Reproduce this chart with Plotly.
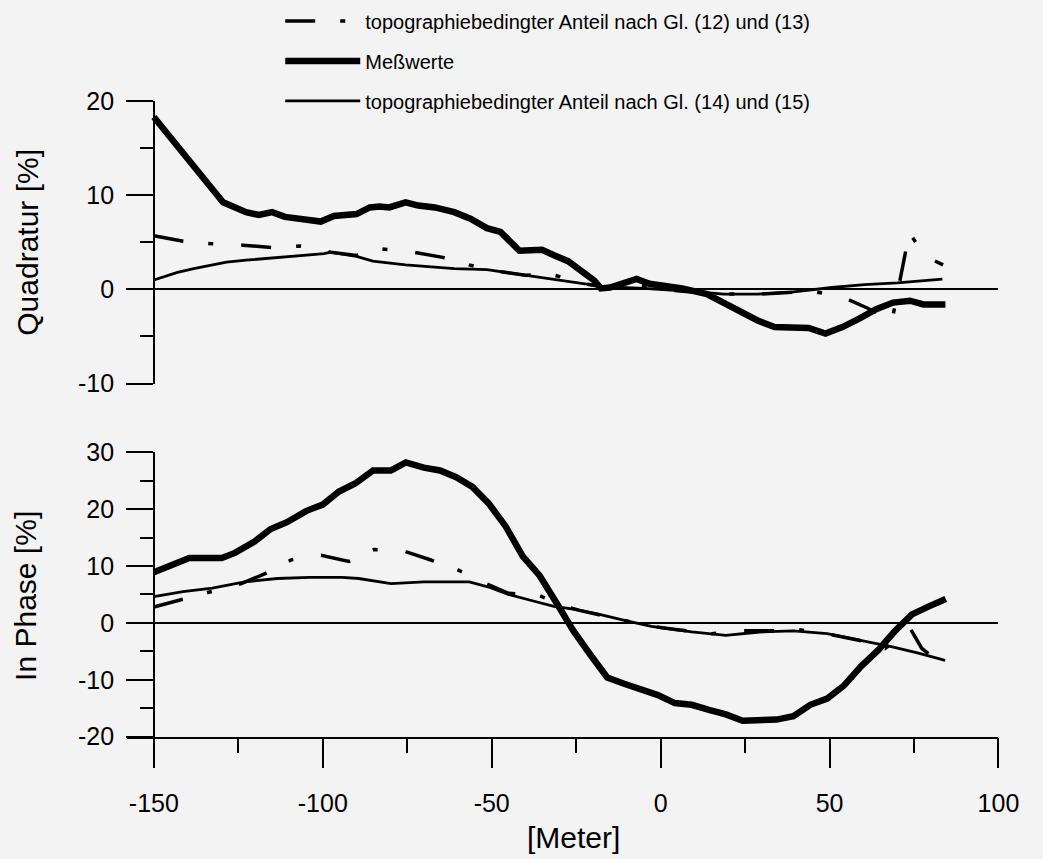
import plotly.graph_objects as go

# ---------------- data ----------------
# Quadratur, Meßwerte
q_mess_x = [-150, -142, -136.2, -129.5, -122.7, -118.9, -115, -111.2, -106.4, -100.6, -96.7, -93.8, -90,
            -86.1, -83.2, -80.3, -75.5, -71.7, -66.8, -61.1, -56.3, -51.4, -47.4, -41.8, -35.1, -31.4,
            -27.4, -19.7, -17.7, -15, -7.1, -3.3, 6.4, 13.7, 18.7, 23.7, 28.7, 33.7, 38.7, 43.8, 48.8,
            53.8, 58.8, 63.8, 68.8, 73.8, 77.8, 84.3]
q_mess_y = [18.3, 14.9, 12.2, 9.25, 8.2, 7.9, 8.2, 7.7, 7.4, 7.2, 7.8, 7.9, 8.0,
            8.7, 8.8, 8.7, 9.25, 8.9, 8.7, 8.2, 7.5, 6.5, 6.1, 4.1, 4.2, 3.6,
            3.0, 0.96, 0.1, 0.2, 1.1, 0.6, 0.1, -0.5, -1.4, -2.4, -3.3, -4.0, -4.1, -4.1, -4.7,
            -4.0, -3.1, -2.1, -1.4, -1.2, -1.6, -1.6]

# Quadratur, topographiebedingter Anteil nach Gl. (12) und (13)
q_g1213_x = [-150, -141, -132.9, -123.7, -115, -106.8, -97.7, -90, -82.4, -73.1, -64.5, -56.7, -48,
             -40, -32.2, -24, -16, -7, 0, 10, 20, 30, 44.4, 53.1, 61.3, 68.5, 73.6, 78.4, 83.6]
q_g1213_y = [5.7, 5.1, 4.85, 4.7, 4.45, 4.6, 3.95, 3.6, 4.3, 3.95, 3.4, 2.6, 1.9,
             1.5, 1.6, 0.7, 0.2, 0.5, 0.0, -0.3, -0.5, -0.5, -0.2, -0.7, -2.0, -3.3, 6.0, 3.5, 2.6]

# Quadratur, topographiebedingter Anteil nach Gl. (14) und (15)
q_g1415_x = [-150, -143, -138.2, -128.5, -122.7, -113, -105, -99.6, -97.7, -90, -85.2, -75.5, -61.1,
             -51.4, -41.8, -32.2, -22.5, -16.8, -5, 8.7, 18.7, 28.7, 38.7, 50.7, 60.3, 70, 83.4]
q_g1415_y = [1.0, 1.8, 2.2, 2.9, 3.1, 3.4, 3.6, 3.8, 3.95, 3.5, 3.0, 2.6, 2.2,
             2.1, 1.6, 1.1, 0.6, 0.3, 0.1, -0.2, -0.5, -0.5, -0.3, 0.2, 0.5, 0.7, 1.1]

# In Phase, Meßwerte
p_mess_x = [-150, -145.3, -139.5, -129.9, -126, -120.2, -115.4, -110.6, -104.8, -100, -95.2, -90.4,
            -85.1, -79.8, -75.4, -70.1, -65.3, -60.5, -55.7, -50.9, -45.9, -40.8, -35.8, -30.8,
            -25.8, -20.8, -15.8, -10.8, -5.8, -0.8, 4.2, 9.2, 14.3, 19.3, 24.3, 29.3, 34.3, 39.3,
            44.3, 49.3, 54.3, 59.4, 64.4, 69.4, 74.4, 79.4, 84.4]
p_mess_y = [8.9, 10.0, 11.4, 11.4, 12.3, 14.3, 16.5, 17.7, 19.7, 20.8, 23.1, 24.5,
            26.8, 26.8, 28.2, 27.3, 26.8, 25.6, 23.9, 21.0, 17.0, 11.7, 8.3, 3.5,
            -1.4, -5.6, -9.6, -10.7, -11.6, -12.7, -14.1, -14.4, -15.3, -16.1, -17.2, -17.2, -17.0, -16.4,
            -14.4, -13.3, -11.0, -7.6, -4.8, -1.4, 1.5, 2.9, 4.2]

# In Phase, Gl. (12) und (13)
p_g1213_x = [-150, -141.9, -133.2, -124.1, -116.9, -109.2, -100.5, -92.3, -84.8, -75.9, -68.2, -60,
             -52, -45, -35.9, -27.7, -24, -18, -10, -3, 5, 15, 24.3, 32.3, 40.8, 49, 59, 66.4,
             74, 77.3, 84]
p_g1213_y = [2.8, 4.1, 5.5, 6.9, 8.7, 11.1, 11.9, 10.8, 12.9, 12.6, 11.1, 9.3,
             7.0, 5.2, 4.8, 2.8, 2.2, 1.4, 0.3, -0.6, -1.2, -1.9, -1.4, -1.4, -1.2, -1.9, -3.1, -4.5,
             -1.1, -4.5, -7.6]

# In Phase, Gl. (14) und (15)
p_g1415_x = [-150, -141.4, -132.7, -123.1, -113.5, -103.8, -94.2, -89.4, -79.8, -70.1, -60.5, -56.6,
             -50.9, -45.1, -37.4, -31.6, -25.8, -18.1, -10.4, -2.7, 9.2, 19.3, 29.3, 39.3, 49.3,
             59, 68.6, 76.3, 84.2]
p_g1415_y = [4.6, 5.5, 6.1, 7.2, 7.8, 8.0, 8.0, 7.8, 6.9, 7.2, 7.2, 7.2,
             6.3, 5.0, 3.8, 2.9, 2.4, 1.5, 0.4, -0.6, -1.6, -2.2, -1.6, -1.4, -1.9,
             -3.1, -4.2, -5.3, -6.6]

x_ticks = [-150, -100, -50, 0, 50, 100]
x_ticktext = ["-150", "-100", "-50", "0", "50", "100"]
q_ticks = [20, 10, 0, -10]
q_ticktext = ["20", "10", "0", "-10"]
p_ticks = [30, 20, 10, 0, -10, -20]
p_ticktext = ["30", "20", "10", "0", "-10", "-20"]

leg_1213 = "topographiebedingter Anteil nach Gl. (12) und (13)"
leg_mess = "Meßwerte"
leg_1415 = "topographiebedingter Anteil nach Gl. (14) und (15)"

# ---------------- styling ----------------
W, H = 1043, 859
BG = "#f3f3f3"
FONT = "Liberation Sans, Arial, Helvetica, sans-serif"
DASH = "30px,25px,5px,28px"

def px_x(p):
    return p / W

def px_y(p):
    return 1 - p / H

fig = go.Figure()

def add(x, y, xa, ya, name, width, dash, show, group):
    fig.add_trace(go.Scatter(
        x=x, y=y, xaxis=xa, yaxis=ya, mode="lines", name=name,
        line=dict(color="black", width=width, dash=dash),
        showlegend=show, legendgroup=group, hoverinfo="skip"))

add(q_g1213_x, q_g1213_y, "x", "y", leg_1213, 3.5, DASH, True, "a")
add(q_mess_x, q_mess_y, "x", "y", leg_mess, 6.5, "solid", True, "b")
add(q_g1415_x, q_g1415_y, "x", "y", leg_1415, 2.8, "solid", True, "c")
add(p_g1213_x, p_g1213_y, "x2", "y2", leg_1213, 3.5, DASH, False, "a")
add(p_mess_x, p_mess_y, "x2", "y2", leg_mess, 6.5, "solid", False, "b")
add(p_g1415_x, p_g1415_y, "x2", "y2", leg_1415, 2.8, "solid", False, "c")

xdom = [px_x(130), px_x(1019)]
xrange_ = [-150 - 27 / 3.448, 100]
yaxis_pos = px_x(157)

tickfont = dict(family=FONT, size=25, color="black")

common_y = dict(
    showline=True, linecolor="black", linewidth=1.5,
    ticks="outside", ticklen=27, tickwidth=1.5, tickcolor="black",
    minor=dict(ticks="outside", ticklen=13, tickwidth=1.5, tickcolor="black", dtick=5),
    tickfont=tickfont, showgrid=False,
    zeroline=True, zerolinecolor="black", zerolinewidth=1.5,
    anchor="free", position=yaxis_pos, ticklabelstandoff=7,
)

fig.update_layout(
    width=W, height=H,
    margin=dict(l=0, r=0, t=0, b=0),
    paper_bgcolor=BG, plot_bgcolor=BG,
    font=dict(family=FONT, color="black"),
    xaxis=dict(domain=xdom, range=xrange_, visible=False, anchor="y"),
    yaxis=dict(domain=[px_y(382), px_y(90)], range=[-10, 20], tickvals=q_ticks,
               ticktext=q_ticktext, **common_y),
    xaxis2=dict(domain=xdom, range=xrange_, anchor="y2", showline=True, linecolor="black",
                linewidth=1.5, ticks="outside", ticklen=30, tickwidth=1.5, tickcolor="black",
                minor=dict(ticks="outside", ticklen=15, tickwidth=1.5, tickcolor="black", dtick=25),
                tickvals=x_ticks, ticktext=x_ticktext, tickfont=tickfont, showgrid=False,
                zeroline=False, ticklabelstandoff=14),
    yaxis2=dict(domain=[px_y(747), px_y(453)], range=[-20, 30], tickvals=p_ticks,
                ticktext=p_ticktext, **common_y),
    legend=dict(x=px_x(286), y=1.0 + 13 / H, xanchor="left", yanchor="top",
                bgcolor="rgba(0,0,0,0)", font=dict(family=FONT, size=20, color="black"),
                traceorder="grouped", tracegroupgap=11, itemwidth=75),
    showlegend=True,
)

title_font = dict(family=FONT, size=30, color="black")
fig.add_annotation(text="Quadratur [%]", xref="paper", yref="paper", x=px_x(28), y=px_y(236),
                   showarrow=False, textangle=-90, font=title_font, xanchor="center", yanchor="middle")
fig.add_annotation(text="In Phase [%]", xref="paper", yref="paper", x=px_x(26), y=px_y(601),
                   showarrow=False, textangle=-90, font=title_font, xanchor="center", yanchor="middle")
fig.add_annotation(text="[Meter]", xref="paper", yref="paper", x=px_x(585), y=px_y(851),
                   showarrow=False, font=title_font, xanchor="center", yanchor="middle")

fig.write_html("out.html")
